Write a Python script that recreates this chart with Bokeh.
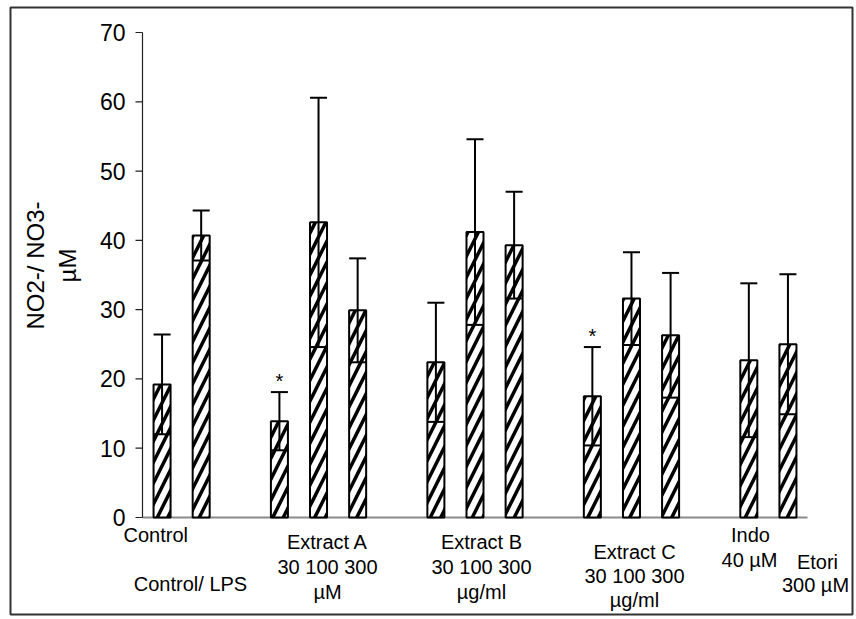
import math
from bokeh.plotting import figure
from bokeh.models import Range1d
from bokeh.core.properties import value
from bokeh.embed import file_html
from bokeh.resources import INLINE

# ---------------- data ----------------
group_names = ["Control", "Extract A", "Extract B", "Extract C", "Reference"]
group_sizes = [2, 3, 3, 3, 2]
bar_names = ["Control", "Control/ LPS",
             "Extract A 30", "Extract A 100", "Extract A 300",
             "Extract B 30", "Extract B 100", "Extract B 300",
             "Extract C 30", "Extract C 100", "Extract C 300",
             "Indo 40", "Etori 300"]
means = [19.2, 40.7, 13.9, 42.6, 29.9, 22.4, 41.2, 39.3, 17.5, 31.6, 26.3, 22.7, 25.0]
sds = [7.2, 3.6, 4.2, 18.0, 7.5, 8.6, 13.4, 7.7, 7.1, 6.7, 9.0, 11.1, 10.1]
significant = [False, False, True, False, False, False, False, False, True, False, False, False, False]
y_ticks = [0, 10, 20, 30, 40, 50, 60, 70]
y_title = "NO2-/ NO3-\nµM"
label_lines = ["Control", "Control/ LPS",
               "Extract A", "30 100 300", "µM",
               "Extract B", "30 100 300", "µg/ml",
               "Extract C", "30 100 300", "µg/ml",
               "Indo", "40 µM",
               "Etori", "300 µM"]

# ---------------- layout ----------------
FONT = value("Liberation Sans")
W, H = 856, 619
# bar slot positions: groups separated by one empty slot
xs = []
pos = 0
for n in group_sizes:
    xs.extend(range(pos, pos + n))
    pos += n + 1
x_lo, x_hi = -0.5, xs[-1] + 0.5
bar_w = 0.435
hw = bar_w / 2

# pixel <-> data helpers for placement of the frame
px_per_x = (807 - 142) / (x_hi - x_lo)
px_per_y = (517 - 32) / 70.0
def dx(px):
    return x_lo + (px - 142) / px_per_x
def dy(py):
    return (517 - py) / px_per_y

p = figure(width=W, height=H, output_backend="svg", toolbar_location=None,
           x_axis_type=None, y_axis_type=None,
           x_range=Range1d(dx(10), dx(852)), y_range=Range1d(dy(614), dy(7)),
           min_border_left=10, min_border_right=W - 852,
           min_border_top=7, min_border_bottom=H - 614)
p.grid.visible = False
p.outline_line_color = "#333333"
p.outline_line_width = 2
p.background_fill_color = "white"
p.border_fill_color = "white"

# x axis line (gray)
p.segment(x0=[x_lo], y0=[0], x1=[x_hi], y1=[0], line_color="#8a8a8a", line_width=2)

# bars
p.vbar(x=xs, top=means, bottom=0, width=bar_w, fill_color="white",
       line_color="black", line_width=2,
       hatch_pattern="/", hatch_color="black", hatch_weight=3.5, hatch_scale=21)

# error bars
lo = [m - s for m, s in zip(means, sds)]
hi = [m + s for m, s in zip(means, sds)]
p.segment(x0=xs, y0=lo, x1=xs, y1=hi, line_color="black", line_width=2)
p.segment(x0=[x - hw for x in xs], y0=hi, x1=[x + hw for x in xs], y1=hi,
          line_color="black", line_width=2)
p.segment(x0=[x - hw for x in xs], y0=lo, x1=[x + hw for x in xs], y1=lo,
          line_color="black", line_width=2)

# significance stars
sx = [x for x, s in zip(xs, significant) if s]
sy = [h for h, s in zip(hi, significant) if s]
p.text(x=sx, y=sy, text=["*"] * len(sx), text_font=FONT, text_font_size="20px",
       text_align="center", text_baseline="alphabetic", y_offset=-11, text_color="black")

# y axis (drawn manually at the left edge of the data area)
tick_len = 7 / px_per_x
p.segment(x0=[x_lo], y0=[y_ticks[0]], x1=[x_lo], y1=[y_ticks[-1]], line_color="#222222", line_width=1.2)
p.segment(x0=[x_lo - tick_len] * len(y_ticks), y0=y_ticks, x1=[x_lo] * len(y_ticks), y1=y_ticks,
          line_color="#222222", line_width=1.2)
p.text(x=[x_lo] * len(y_ticks), y=y_ticks, text=[str(t) for t in y_ticks], x_offset=-17,
       text_font=FONT, text_font_size="23px", text_align="right", text_baseline="middle",
       text_color="black")

# y title
p.text(x=[dx(51)], y=[dy(265)], text=[y_title], angle=math.pi / 2,
       text_font=FONT, text_font_size="24px", text_align="center", text_baseline="middle",
       text_color="black", text_line_height=1.2)

# category labels below the axis (baseline positions in pixels)
label_px = [(123, 534, "left"), (190, 583, "center"),
            (327, 541, "center"), (327, 566, "center"), (327, 591, "center"),
            (481, 541, "center"), (481, 566, "center"), (481, 591, "center"),
            (634, 551, "center"), (634, 575, "center"), (634, 599, "center"),
            (750, 534, "center"), (749, 559, "center"),
            (817, 561, "center"), (815, 584, "center")]
for txt, (px, py, al) in zip(label_lines, label_px):
    p.text(x=[dx(px)], y=[dy(py)], text=[txt], text_font=FONT, text_font_size="20px",
           text_align=al, text_baseline="alphabetic", text_color="black")

open("out.html", "w").write(file_html(p, INLINE))
